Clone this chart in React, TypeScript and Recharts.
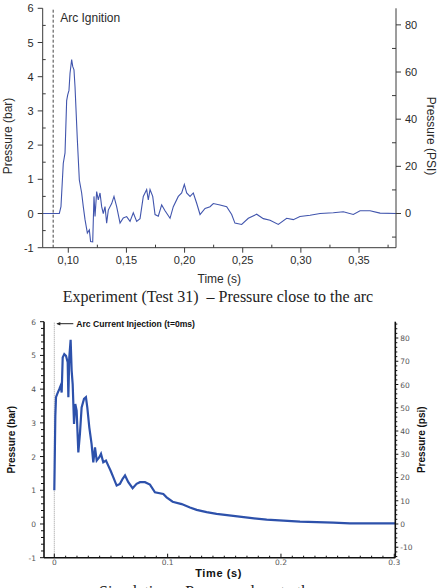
import React from 'react';
import { LineChart, Line, XAxis, YAxis, ReferenceLine } from 'recharts';

// ---------- Experiment (Test 31) ----------
const expTime = [
  0.078, 0.0923, 0.0937, 0.0957, 0.0972, 0.0986, 0.0995, 0.1006, 0.1015, 0.1029, 0.1038, 0.1049, 0.1058,
  0.1078, 0.1095, 0.1115, 0.1129, 0.1144, 0.1164, 0.1181, 0.1192, 0.121, 0.1221, 0.123, 0.1244, 0.1258,
  0.1273, 0.1287, 0.1301, 0.1316, 0.133, 0.1344, 0.1373, 0.1393, 0.1416, 0.1445, 0.1473, 0.1502, 0.1531,
  0.1559, 0.1588, 0.1617, 0.1645, 0.1674, 0.1688, 0.1703, 0.1726, 0.1746, 0.1774, 0.1803, 0.1832, 0.1875,
  0.1903, 0.1946, 0.1975, 0.1998, 0.2018, 0.2047, 0.2075, 0.2104, 0.2133, 0.2176, 0.2219, 0.2247, 0.2305,
  0.2362, 0.2405, 0.2433, 0.2491, 0.2548, 0.262, 0.2677, 0.2735, 0.2806, 0.2878, 0.2935, 0.2992, 0.3079,
  0.3165, 0.3279, 0.3365, 0.3451, 0.3509, 0.3595, 0.3681, 0.3818,
];
const expPressure = [
  0, 0, 0.2, 1.47, 1.77, 3.3, 3.47, 3.6, 4.1, 4.5, 4.3, 4.2, 3.7,
  2.15, 0.98, 0.6, 0.2, -0.18, -0.57, -0.48, -0.82, -0.83, 0.5, -0.09, 0.64, 0.4,
  0.6, 0.2, 0, 0.2, -0.28, 0.1, 0.29, 0.5, 0.2, -0.28, -0.13, -0.09, -0.23,
  0.02, -0.23, -0.15, 0.5, 0.7, 0.4, 0.7, 0.5, -0.03, -0.08, 0.25, 0.08, -0.14,
  0.2, 0.5, 0.6, 0.85, 0.6, 0.5, 0.6, 0.3, -0.03, 0.15, 0.2, 0.29, 0.25,
  0.2, -0.03, -0.28, -0.32, -0.14, -0.02, -0.15, -0.2, -0.32, -0.14, -0.18, -0.09, -0.05,
  0, 0.02, 0.05, -0.03, 0.08, 0.08, 0.01, 0,
];
const expXTicks = [0.1, 0.125, 0.15, 0.175, 0.2, 0.225, 0.25, 0.275, 0.3, 0.325, 0.35, 0.375];
const expBarTicks = [-1, -0.5, 0, 0.5, 1, 1.5, 2, 2.5, 3, 3.5, 4, 4.5, 5, 5.5, 6];
const expPsiTicks = [-10, 0, 10, 20, 30, 40, 50, 60, 70, 80];
const expIgnition = 0.087;

// ---------- Simulation ----------
const simTime = [
  0, 0.0003, 0.0009, 0.0015, 0.0026, 0.0044, 0.0056, 0.0065, 0.0074, 0.0088, 0.0103, 0.0118, 0.0124,
  0.0132, 0.0144, 0.0153, 0.0162, 0.0174, 0.0185, 0.0197, 0.0212, 0.0226, 0.0241, 0.0262, 0.0279, 0.0291,
  0.0309, 0.0329, 0.0344, 0.0359, 0.0374, 0.0397, 0.0412, 0.0432, 0.0456, 0.0476, 0.0497, 0.0521, 0.055,
  0.0579, 0.0603, 0.0624, 0.0653, 0.0691, 0.0726, 0.0756, 0.08, 0.0844, 0.0888, 0.0962, 0.0991, 0.1044,
  0.1124, 0.1197, 0.1256, 0.1344, 0.1432, 0.1579, 0.1726, 0.1874, 0.2021, 0.2168, 0.2462, 0.2609, 0.2844,
  0.3009,
];
const simPressure = [
  1.0, 1.7, 3.2, 3.76, 3.86, 4.0, 4.1, 3.9, 4.94, 5.04, 4.99, 4.8, 3.76,
  4.94, 5.46, 4.55, 4.15, 2.97, 3.56, 3.36, 2.12, 2.67, 3.46, 3.71, 3.76, 3.46,
  2.86, 2.37, 1.83, 2.27, 1.88, 1.98, 2.08, 1.83, 1.88, 1.73, 1.58, 1.38, 1.14,
  1.19, 1.34, 1.44, 1.24, 1.06, 1.19, 1.24, 1.24, 1.17, 0.94, 0.89, 0.79, 0.66,
  0.59, 0.49, 0.42, 0.35, 0.3, 0.24, 0.18, 0.13, 0.1, 0.07, 0.04, 0.02, 0.02,
  0.02,
];
const simXTicks = Array.from({ length: 31 }, (_, i) => Math.round(i) / 100);
const simBarTicks = Array.from({ length: 36 }, (_, i) => Math.round((-1 + i * 0.2) * 10) / 10);
const simPsiTicks = Array.from({ length: 51 }, (_, i) => -14 + i * 2);

const expData = expTime.map((t, i) => ({ t, p: expPressure[i] }));
const simData = simTime.map((t, i) => ({ t, p: simPressure[i] }));

const isInt = (v: number, step = 1) => Math.abs(v / step - Math.round(v / step)) < 1e-6;

// ---------- custom ticks: chart 1 ----------
const E_AX = '#3a3a3a';
const E_TXT = '#2a2a2a';
const EFONT = '"Liberation Sans", Arial, sans-serif';

const ExpXTick = (p: any) => {
  const { x, y, payload } = p;
  const v = payload.value;
  const major = isInt(v, 0.05);
  return (
    <g>
      <line x1={x} x2={x} y1={y} y2={major ? y + 5 : y - 3} stroke={E_AX} strokeWidth={1} />
      {major && (
        <text x={x} y={y + 16} textAnchor="middle" fontSize={11} fill={E_TXT} fontFamily={EFONT}>
          {v.toFixed(2).replace('.', ',')}
        </text>
      )}
    </g>
  );
};
const ExpLeftTick = (p: any) => {
  const { x, y, payload } = p;
  const v = payload.value;
  const major = isInt(v);
  return (
    <g>
      <line x1={x} x2={major ? x - 5 : x + 3} y1={y} y2={y} stroke={E_AX} strokeWidth={1} />
      {major && (
        <text x={x - 9} y={y + 4} textAnchor="end" fontSize={11} fill={E_TXT} fontFamily={EFONT}>
          {v}
        </text>
      )}
    </g>
  );
};
const ExpRightTick = (p: any) => {
  const { x, y, payload } = p;
  const v = payload.value;
  const major = isInt(v, 20);
  return (
    <g>
      <line x1={x} x2={major ? x + 5 : x - 4} y1={y} y2={y} stroke={E_AX} strokeWidth={1} />
      {major && (
        <text x={x + 9} y={y + 4} textAnchor="start" fontSize={11} fill={E_TXT} fontFamily={EFONT}>
          {v}
        </text>
      )}
    </g>
  );
};

// ---------- custom ticks: chart 2 ----------
const S_AX = '#111';
const S_TXT = '#555';
const SFONT = '"DejaVu Sans", Verdana, sans-serif';

const SimXTick = (p: any) => {
  const { x, y, payload } = p;
  const v = payload.value;
  const major = isInt(v, 0.1);
  return (
    <g>
      <line x1={x} x2={x} y1={y} y2={y - (major ? 4 : 2)} stroke={S_AX} strokeWidth={1} />
      {major && (
        <text x={x} y={y + 7.5} textAnchor="middle" fontSize={7.5} fill={S_TXT} fontFamily={SFONT}>
          {v === 0 ? '0' : String(v)}
        </text>
      )}
    </g>
  );
};
const SimLeftTick = (p: any) => {
  const { x, y, payload } = p;
  const v = payload.value;
  const major = isInt(v);
  return (
    <g>
      <line x1={x} x2={x - (major ? 4 : 3)} y1={y} y2={y} stroke={S_AX} strokeWidth={1} />
      {major && (
        <text x={x - 8} y={y + 3} textAnchor="end" fontSize={7.5} fill={S_TXT} fontFamily={SFONT}>
          {v}
        </text>
      )}
    </g>
  );
};
const SimRightTick = (p: any) => {
  const { x, y, payload } = p;
  const v = payload.value;
  const major = isInt(v, 10);
  return (
    <g>
      <line x1={x} x2={x + (major ? 3 : 2)} y1={y} y2={y} stroke={S_AX} strokeWidth={1} />
      {major && (
        <text x={x + 5} y={y + 3} textAnchor="start" fontSize={7.5} fill={S_TXT} fontFamily={SFONT}>
          {v}
        </text>
      )}
    </g>
  );
};

export default function App() {
  return (
    <div
      style={{
        position: 'absolute',
        left: 0,
        top: 0,
        width: 447,
        height: 588,
        background: '#fff',
        overflow: 'hidden',
      }}
    >
      {/* Chart 1: Experiment */}
      <div style={{ position: 'absolute', left: 0, top: 0 }}>
        <LineChart
          width={447}
          height={300}
          data={expData}
          margin={{ top: 8.3, right: 11, bottom: 12.3, left: 12.7 }}
        >
          <XAxis
            dataKey="t"
            type="number"
            domain={[0.078, 0.3818]}
            allowDataOverflow
            ticks={expXTicks}
            interval={0}
            tickSize={0}
            tickMargin={0}
            tick={<ExpXTick />}
            height={40}
            stroke={E_AX}
            label={(props: any) => {
              const vb = props.viewBox;
              return (
                <text
                  x={vb.x + vb.width / 2}
                  y={vb.y + 35.5}
                  textAnchor="middle"
                  fontSize={12}
                  fill={E_TXT}
                  fontFamily={EFONT}
                >
                  Time (s)
                </text>
              );
            }}
          />
          <YAxis
            yAxisId="bar"
            type="number"
            domain={[-1, 6]}
            allowDataOverflow
            ticks={expBarTicks}
            interval={0}
            tickSize={0}
            tickMargin={0}
            tick={<ExpLeftTick />}
            width={30}
            stroke={E_AX}
            label={(props: any) => {
              const vb = props.viewBox;
              const cy = vb.y + vb.height / 2 + 8;
              return (
                <text
                  x={11.5}
                  y={cy}
                  transform={`rotate(-90 11.5 ${cy})`}
                  textAnchor="middle"
                  fontSize={12}
                  fill={E_TXT}
                  fontFamily={EFONT}
                >
                  Pressure (bar)
                </text>
              );
            }}
          />
          <YAxis
            yAxisId="psi"
            orientation="right"
            type="number"
            domain={[-14.504, 87.023]}
            allowDataOverflow
            ticks={expPsiTicks}
            interval={0}
            tickSize={0}
            tickMargin={0}
            tick={<ExpRightTick />}
            width={40}
            stroke={E_AX}
            label={(props: any) => {
              const vb = props.viewBox;
              const cy = vb.y + vb.height / 2 + 8;
              return (
                <text
                  x={427}
                  y={cy}
                  transform={`rotate(90 427 ${cy})`}
                  textAnchor="middle"
                  fontSize={12}
                  fill={E_TXT}
                  fontFamily={EFONT}
                >
                  Pressure (PSI)
                </text>
              );
            }}
          />
          <ReferenceLine
            yAxisId="bar"
            x={expIgnition}
            stroke="#444"
            strokeDasharray="3 2"
            strokeWidth={1}
            label={(props: any) => {
              const vb = props.viewBox;
              return (
                <text x={vb.x + 7} y={vb.y + 14} fontSize={12} fill={E_TXT} fontFamily={EFONT}>
                  Arc Ignition
                </text>
              );
            }}
          />
          <Line
            yAxisId="bar"
            dataKey="p"
            type="linear"
            stroke="#4155ad"
            strokeWidth={1.1}
            dot={false}
            isAnimationActive={false}
          />
        </LineChart>
      </div>

      {/* Chart 2: Simulation */}
      <div style={{ position: 'absolute', left: 0, top: 300 }}>
        <LineChart
          width={447}
          height={288}
          data={simData}
          margin={{ top: 21.7, right: 11.7, bottom: 0.3, left: 12 }}
        >
          <XAxis
            dataKey="t"
            type="number"
            domain={[-0.0091, 0.3009]}
            allowDataOverflow
            ticks={simXTicks}
            interval={0}
            tickSize={0}
            tickMargin={0}
            tick={<SimXTick />}
            height={30}
            stroke={S_AX}
            strokeWidth={1.6}
            label={(props: any) => {
              const vb = props.viewBox;
              return (
                <text
                  x={vb.x + vb.width / 2 - 1}
                  y={vb.y + 19}
                  textAnchor="middle"
                  fontSize={11}
                  fontWeight="bold"
                  letterSpacing={0.6}
                  fill="#111"
                  fontFamily={EFONT}
                >
                  Time (s)
                </text>
              );
            }}
          />
          <YAxis
            yAxisId="bar"
            type="number"
            domain={[-1, 6]}
            allowDataOverflow
            ticks={simBarTicks}
            interval={0}
            tickSize={0}
            tickMargin={0}
            tick={<SimLeftTick />}
            width={32}
            stroke={S_AX}
            strokeWidth={1.6}
            label={(props: any) => {
              const vb = props.viewBox;
              const cy = vb.y + vb.height / 2 + 0;
              return (
                <text
                  x={15}
                  y={cy}
                  transform={`rotate(-90 15 ${cy})`}
                  textAnchor="middle"
                  fontSize={10}
                  fontWeight="bold"
                  fill="#111"
                  fontFamily={EFONT}
                >
                  Pressure (bar)
                </text>
              );
            }}
          />
          <YAxis
            yAxisId="psi"
            orientation="right"
            type="number"
            domain={[-14.504, 87.023]}
            allowDataOverflow
            ticks={simPsiTicks}
            interval={0}
            tickSize={0}
            tickMargin={0}
            tick={<SimRightTick />}
            width={40}
            stroke={S_AX}
            strokeWidth={1.6}
            label={(props: any) => {
              const vb = props.viewBox;
              const cy = vb.y + vb.height / 2 + 0;
              return (
                <text
                  x={425}
                  y={cy}
                  transform={`rotate(-90 425 ${cy})`}
                  textAnchor="middle"
                  fontSize={10}
                  fontWeight="bold"
                  fill="#111"
                  fontFamily={EFONT}
                >
                  Pressure (psi)
                </text>
              );
            }}
          />
          <ReferenceLine
            yAxisId="bar"
            x={0}
            stroke="#999"
            strokeDasharray="1 1"
            strokeWidth={1}
            label={(props: any) => {
              const vb = props.viewBox;
              const x0 = vb.x;
              const y0 = vb.y + 2;
              return (
                <g>
                  <line x1={x0 + 3} x2={x0 + 19} y1={y0} y2={y0} stroke="#222" strokeWidth={1} />
                  <path d={`M ${x0 + 2} ${y0} L ${x0 + 6} ${y0 - 1.8} L ${x0 + 6} ${y0 + 1.8} Z`} fill="#222" />
                  <text x={x0 + 22} y={y0 + 3} fontSize={8.6} fontWeight="bold" fill="#111" fontFamily={EFONT}>
                    Arc Current Injection (t=0ms)
                  </text>
                </g>
              );
            }}
          />
          <Line
            yAxisId="bar"
            dataKey="p"
            type="linear"
            stroke="#2d51ab"
            strokeWidth={2.2}
            dot={false}
            isAnimationActive={false}
          />
        </LineChart>
      </div>

      {/* captions */}
      <svg
        width={447}
        height={588}
        style={{ position: 'absolute', left: 0, top: 0, pointerEvents: 'none' }}
      >
        <text
          x={218}
          y={302}
          textAnchor="middle"
          fontSize={16}
          fill="#222"
          fontFamily='"Liberation Serif", "Times New Roman", serif'
          style={{ whiteSpace: 'pre' }}
        >
          Experiment (Test 31)  – Pressure close to the arc
        </text>
        <text
          x={219.5}
          y={597}
          textAnchor="middle"
          fontSize={16}
          fill="#222"
          fontFamily='"Liberation Serif", "Times New Roman", serif'
        >
          Simulation – Pressure close to the arc
        </text>
      </svg>
    </div>
  );
}
